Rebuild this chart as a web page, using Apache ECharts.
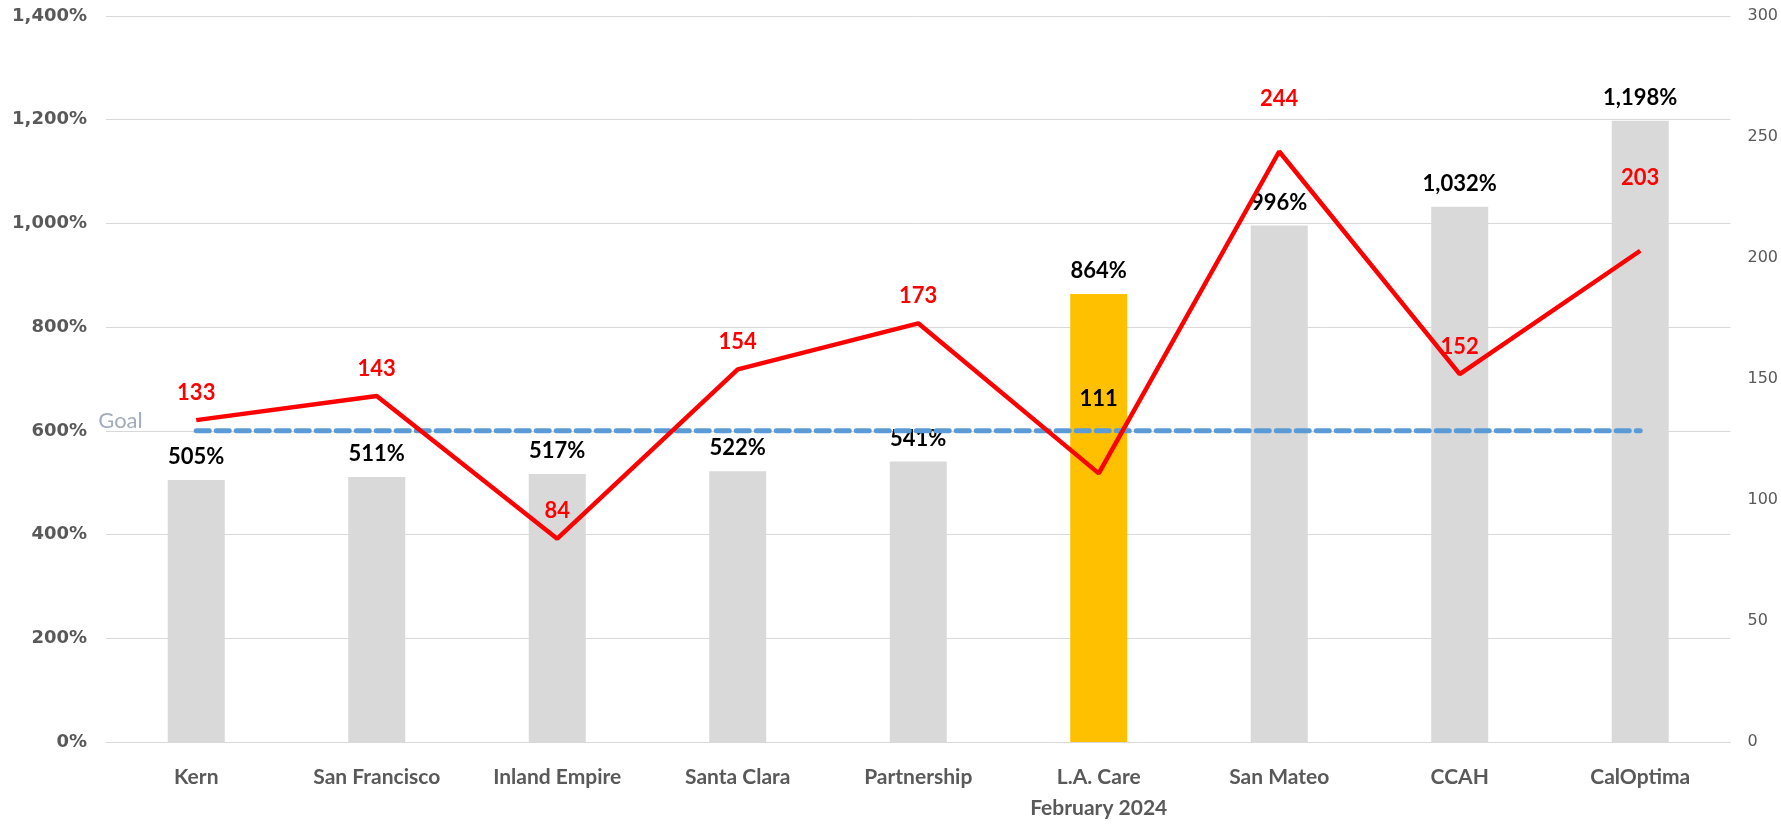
<!DOCTYPE html>
<html>
<head>
<meta charset="utf-8">
<script src="https://cdn.jsdelivr.net/npm/echarts@6/dist/echarts.min.js"></script>
<style>
  html, body { margin: 0; padding: 0; background: #fff; }
  #chart { width: 1781px; height: 824px; }
</style>
</head>
<body>
<div id="chart"></div>
<script>
// plan names along the x axis
var categories = ['Kern', 'San Francisco', 'Inland Empire', 'Santa Clara', 'Partnership',
  'L.A. Care\nFebruary 2024', 'San Mateo', 'CCAH', 'CalOptima'];
// bar values (%) - left axis
var barValues = [505, 511, 517, 522, 541, 864, 996, 1032, 1198];
// red line values - right axis
var lineValues = [133, 143, 84, 154, 173, 111, 244, 152, 203];
// goal (%)
var goalValue = 600;
var highlightIndex = 5; // L.A. Care

var grayBar = '#D9D9D9';
var yellowBar = '#FFC000';
var axisGray = '#595959';
var hidden = 'rgba(0,0,0,0)';

function fmt(n) {
  return String(n).replace(/\B(?=(\d{3})+(?!\d))/g, ',');
}

// label distances above the red line points (some are moved up, like in the original)
var lineLabelDist = [16, 16, 16, 16, 16, 63, 41, 16, 61];

var barData = barValues.map(function (v, i) {
  return {
    value: v,
    itemStyle: { color: i === highlightIndex ? yellowBar : grayBar }
  };
});

var lineData = lineValues.map(function (v, i) {
  return {
    value: v,
    label: {
      distance: lineLabelDist[i],
      color: i === highlightIndex ? '#000000' : '#FF0000'
    }
  };
});

var goalData = categories.map(function (c, i) {
  if (i === 0) {
    return {
      value: goalValue,
      label: {
        show: true,
        position: 'left',
        distance: 53,
        offset: [0, -10],
        formatter: 'Goal',
        color: '#A3ACBB',
        fontFamily: 'Lato',
        fontSize: 22
      }
    };
  }
  return goalValue;
});

var myChart = echarts.init(document.getElementById('chart'));
var option = {
  animation: false,
  backgroundColor: '#ffffff',
  grid: {
    left: 106,
    right: 49,
    top: 16,
    bottom: 80
  },
  xAxis: {
    type: 'category',
    data: categories,
    axisTick: { show: false },
    axisLine: { lineStyle: { color: '#D9D9D9', width: 1 } },
    axisLabel: {
      interval: 0,
      margin: 20,
      color: axisGray,
      fontFamily: 'Lato',
      fontWeight: 'bold',
      fontSize: 21,
      lineHeight: 31
    }
  },
  yAxis: [
    {
      type: 'value',
      min: 0,
      max: 1400,
      interval: 200,
      axisLine: { show: false },
      axisTick: { show: false },
      splitLine: { lineStyle: { color: '#D9D9D9', width: 1 } },
      axisLabel: {
        margin: 19,
        color: axisGray,
        fontFamily: 'DejaVu Sans',
        fontWeight: 'bold',
        fontSize: 18,
        formatter: function (v) { return fmt(v) + '%'; }
      }
    },
    {
      type: 'value',
      min: 0,
      max: 300,
      interval: 50,
      axisLine: { show: false },
      axisTick: { show: false },
      splitLine: { show: false },
      axisLabel: {
        margin: 17,
        color: axisGray,
        fontFamily: 'DejaVu Sans',
        fontSize: 16
      }
    }
  ],
  series: [
    {
      name: 'Rate',
      type: 'bar',
      yAxisIndex: 0,
      barWidth: 57,
      data: barData,
      z: 2,
      label: {
        show: true,
        position: 'top',
        distance: 12,
        color: '#000000',
        fontFamily: 'Lato',
        fontWeight: 'bold',
        fontSize: 22,
        formatter: function (p) { return fmt(p.value) + '%'; }
      }
    },
    {
      name: 'Goal',
      type: 'line',
      yAxisIndex: 0,
      data: goalData,
      symbol: 'circle',
      symbolSize: 1,
      itemStyle: { color: hidden },
      z: 3,
      lineStyle: {
        color: '#5B9BD5',
        width: 5,
        type: [13, 7],
        cap: 'round'
      }
    },
    {
      name: 'Count',
      type: 'line',
      yAxisIndex: 1,
      data: lineData,
      symbol: 'circle',
      symbolSize: 1,
      itemStyle: { color: hidden },
      z: 4,
      lineStyle: { color: '#FF0000', width: 4.5 },
      label: {
        show: true,
        position: 'top',
        color: '#FF0000',
        fontFamily: 'Lato',
        fontWeight: 'bold',
        fontSize: 22
      }
    }
  ]
};
myChart.setOption(option);
window.addEventListener('resize', function () {
  myChart.resize();
});
</script>
</body>
</html>
